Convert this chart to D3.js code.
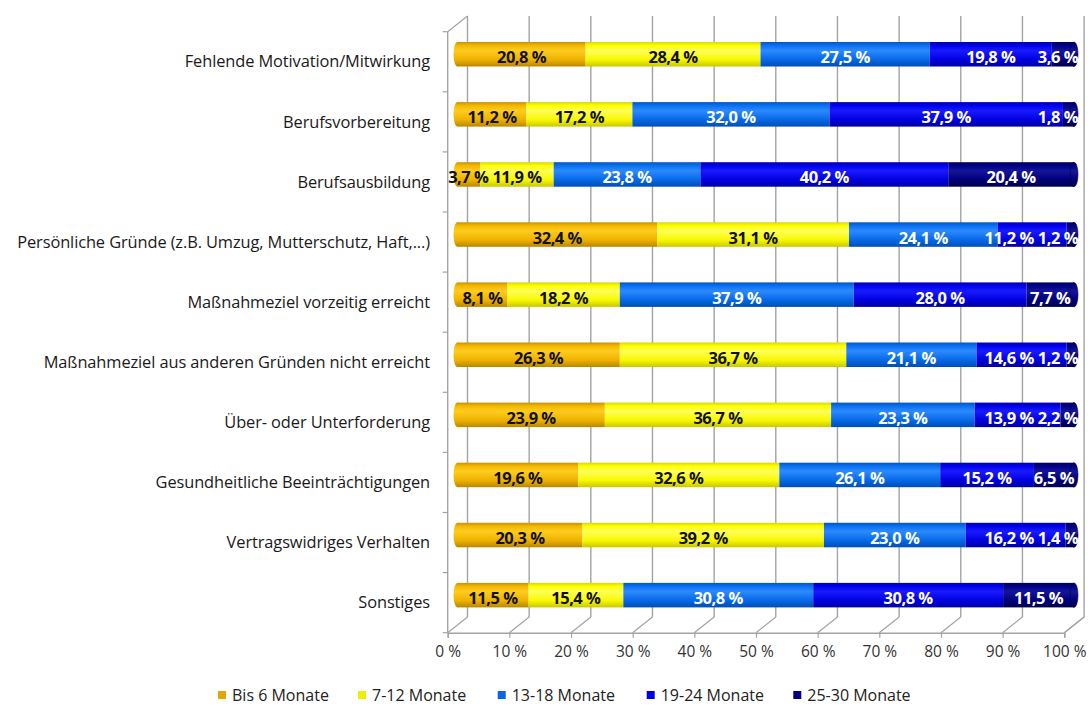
<!DOCTYPE html>
<html>
<head>
<meta charset="utf-8">
<script src="https://cdn.jsdelivr.net/npm/d3@7"></script>
<style>
    body { margin: 0; background: #fff; }
    text { font-family: "Open Sans", sans-serif; }
    .cat { font-size: 16.4px; fill: #1a1a1a; letter-spacing: -0.1px; }
    .tick text { font-size: 15.5px; fill: #333; }
    .val { font-size: 16.5px; font-weight: bold; letter-spacing: -0.5px; }
    .leg { font-size: 16px; fill: #222; }
</style>
</head>
<body>
<svg id="canvas" width="1088" height="707"></svg>
<script>
// categories, top to bottom
const categories = [
    'Fehlende Motivation/Mitwirkung',
    'Berufsvorbereitung',
    'Berufsausbildung',
    'Persönliche Gründe (z.B. Umzug, Mutterschutz, Haft,...)',
    'Maßnahmeziel vorzeitig erreicht',
    'Maßnahmeziel aus anderen Gründen nicht erreicht',
    'Über- oder Unterforderung',
    'Gesundheitliche Beeinträchtigungen',
    'Vertragswidriges Verhalten',
    'Sonstiges'
];
const seriesNames = ['Bis 6 Monate', '7-12 Monate', '13-18 Monate', '19-24 Monate', '25-30 Monate'];

// values per series, in category order
const bis6   = [20.8, 11.2,  3.7, 32.4,  8.1, 26.3, 23.9, 19.6, 20.3, 11.5];
const m7_12  = [28.4, 17.2, 11.9, 31.1, 18.2, 36.7, 36.7, 32.6, 39.2, 15.4];
const m13_18 = [27.5, 32.0, 23.8, 24.1, 37.9, 21.1, 23.3, 26.1, 23.0, 30.8];
const m19_24 = [19.8, 37.9, 40.2, 11.2, 28.0, 14.6, 13.9, 15.2, 16.2, 30.8];
const m25_30 = [ 3.6,  1.8, 20.4,  1.2,  7.7,  1.2,  2.2,  6.5,  1.4, 11.5];
const seriesValues = [bis6, m7_12, m13_18, m19_24, m25_30];

const xTicks = [0, 10, 20, 30, 40, 50, 60, 70, 80, 90, 100];

const svg = d3.select('#canvas');

// colours: [dark edge, base, highlight, base, dark edge]
const shades = [
    ['#c99200', '#f2b800', '#ffcc1e', '#eeb200', '#b98700'],
    ['#d8d800', '#ffff00', '#ffff5a', '#f8f800', '#c8c800'],
    ['#0056c4', '#0a70f0', '#2c8aff', '#0668e6', '#004eb4'],
    ['#0000b4', '#0000ec', '#1a1aff', '#0000de', '#0000a4'],
    ['#00005c', '#000086', '#15159a', '#00007a', '#00004e']
];
const legendColors = ['#e2a800', '#eeee00', '#0a66e6', '#0000e8', '#000080'];
const labelColors = ['#111', '#111', '#fff', '#fff', '#fff'];

const defs = svg.append('defs');
shades.forEach((s, i) => {
    const g = defs.append('linearGradient')
        .attr('id', 'grad' + i)
        .attr('x1', 0).attr('y1', 0).attr('x2', 0).attr('y2', 1);
    [0, 0.14, 0.35, 0.72, 1].forEach((o, j) => {
        g.append('stop').attr('offset', o).attr('stop-color', s[j]);
    });
});

// 3d box: front plane and depth offset of the back wall
const depthX = 19.8, depthY = -15.7;
const xFront = d3.scaleLinear().domain([0, 100]).range([447.7, 1064.3]);
const xBack = d3.scaleLinear().domain([0, 100]).range([447.7 + depthX, 1064.3 + depthX]);
const xBar = d3.scaleLinear().domain([0, 1]).range([457.5, 1074]);
const yBand = d3.scaleBand().domain(categories).range([31.7, 632.7]);
const floorY = 632.7;
const barH = 24.5;
const barShift = -7.5;
const gridColor = '#a3a3a3';

const grid = svg.append('g');

// back wall gridlines
grid.selectAll('line.vg')
    .data(xTicks)
    .enter().append('line')
    .attr('x1', d => xBack(d)).attr('x2', d => xBack(d))
    .attr('y1', yBand.range()[0] + depthY)
    .attr('y2', floorY + depthY)
    .attr('stroke', gridColor).attr('stroke-width', 1.4);

// floor diagonals
grid.selectAll('line.fd')
    .data(xTicks)
    .enter().append('line')
    .attr('x1', d => xFront(d)).attr('y1', floorY)
    .attr('x2', d => xBack(d)).attr('y2', floorY + depthY)
    .attr('stroke', gridColor).attr('stroke-width', 1.2);

// left wall
grid.append('line')
    .attr('x1', xFront(0)).attr('x2', xFront(0))
    .attr('y1', yBand.range()[0]).attr('y2', floorY)
    .attr('stroke', gridColor).attr('stroke-width', 1.4);
grid.append('line')
    .attr('x1', xFront(0)).attr('y1', yBand.range()[0])
    .attr('x2', xBack(0)).attr('y2', yBand.range()[0] + depthY)
    .attr('stroke', gridColor).attr('stroke-width', 1.2);

// left wall ticks at category boundaries
const bounds = categories.map(c => yBand(c)).concat([floorY]);
grid.selectAll('line.lt')
    .data(bounds)
    .enter().append('line')
    .attr('x1', xFront(0) - 5).attr('x2', xFront(0))
    .attr('y1', d => d).attr('y2', d => d)
    .attr('stroke', gridColor).attr('stroke-width', 1.2);

// right edge of the floor
grid.append('line')
    .attr('x1', xFront(100)).attr('y1', floorY)
    .attr('x2', xBack(100)).attr('y2', floorY + depthY)
    .attr('stroke', gridColor).attr('stroke-width', 1.2);

// bottom axis on the front edge
const xAxis = d3.axisBottom(xFront)
    .tickValues(xTicks)
    .tickSize(5)
    .tickPadding(8)
    .tickFormat(d => d + ' %');
const axisG = svg.append('g')
    .attr('transform', 'translate(0,' + floorY + ')')
    .call(xAxis);
axisG.select('.domain').attr('stroke', gridColor).attr('stroke-width', 1.4);
axisG.selectAll('.tick line').attr('stroke', gridColor).attr('stroke-width', 1.2);

// category labels
svg.append('g').selectAll('text')
    .data(categories)
    .enter().append('text')
    .attr('class', 'cat')
    .attr('x', 430)
    .attr('y', d => yBand(d) + yBand.bandwidth() / 2)
    .attr('dy', '0.35em')
    .attr('text-anchor', 'end')
    .text(d => d);

// stacked data, normalised to 100 %
const rows = categories.map((c, i) => {
    const r = { cat: c };
    seriesNames.forEach((s, k) => { r[s] = seriesValues[k][i]; });
    return r;
});
const stacked = d3.stack().keys(seriesNames).offset(d3.stackOffsetExpand)(rows);

const barY = d => yBand(d.data.cat) + yBand.bandwidth() / 2 + barShift - barH / 2;

const bars = svg.append('g');

// left end caps
bars.selectAll('ellipse.lcap')
    .data(stacked[0])
    .enter().append('ellipse')
    .attr('cx', d => xBar(d[0]))
    .attr('cy', d => barY(d) + barH / 2)
    .attr('rx', 4).attr('ry', barH / 2)
    .attr('fill', 'url(#grad0)');

stacked.forEach((layer, i) => {
    bars.append('g').selectAll('rect')
        .data(layer)
        .enter().append('rect')
        .attr('x', d => xBar(d[0]))
        .attr('y', d => barY(d))
        .attr('width', d => xBar(d[1]) - xBar(d[0]))
        .attr('height', barH)
        .attr('fill', 'url(#grad' + i + ')');
});

// right end caps
bars.selectAll('ellipse.rcap')
    .data(stacked[4])
    .enter().append('ellipse')
    .attr('cx', d => xBar(d[1]))
    .attr('cy', d => barY(d) + barH / 2)
    .attr('rx', 4).attr('ry', barH / 2)
    .attr('fill', 'url(#grad4)')
    .attr('stroke', '#00003a').attr('stroke-width', 0.6);

// value labels, placed right to left so they do not run into each other
const fmt = v => d3.format('.1f')(v).replace('.', ',') + ' %';
const rightLimit = 1078;
const labelGroups = stacked.map((layer, i) =>
    bars.append('g').selectAll('text')
        .data(layer)
        .enter().append('text')
        .attr('class', 'val')
        .attr('fill', labelColors[i])
        .attr('y', d => barY(d) + barH / 2 + 9)
        .attr('text-anchor', 'middle')
        .text(d => fmt(seriesValues[i][categories.indexOf(d.data.cat)]))
);
categories.forEach((c, row) => {
    let limit = rightLimit;
    for (let i = stacked.length - 1; i >= 0; i--) {
        const node = labelGroups[i].nodes()[row];
        const d = stacked[i][row];
        const w = node.getComputedTextLength();
        let cx = (xBar(d[0]) + xBar(d[1])) / 2;
        if (cx + w / 2 > limit) cx = limit - w / 2;
        d3.select(node).attr('x', cx);
        limit = cx - w / 2 - 4;
    }
});

// legend
const legendX = [218, 358, 497.7, 646.7, 793.3];
const leg = svg.append('g').attr('transform', 'translate(0,695)');
seriesNames.forEach((s, i) => {
    leg.append('rect')
        .attr('x', legendX[i]).attr('y', -4)
        .attr('width', 8).attr('height', 8)
        .attr('fill', legendColors[i]);
    leg.append('text')
        .attr('class', 'leg')
        .attr('x', legendX[i] + 14)
        .attr('y', 0)
        .attr('dy', '0.35em')
        .text(s);
});
</script>
</body>
</html>
